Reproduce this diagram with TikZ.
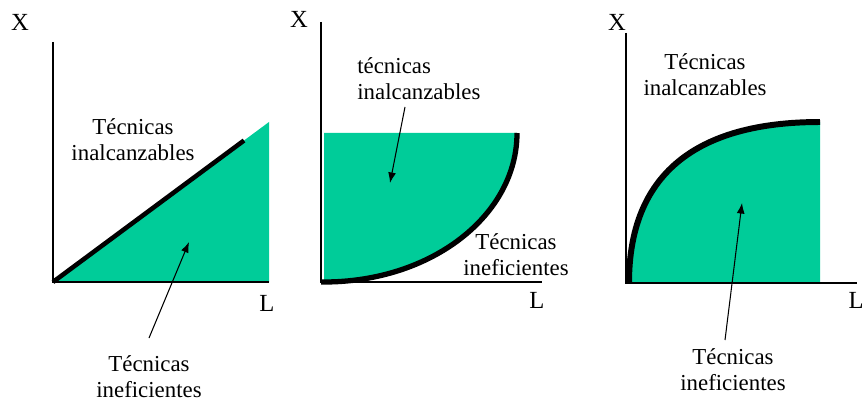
\documentclass[tikz,border=0pt]{standalone}
\usepackage{fontspec}
\setmainfont{Liberation Serif}
\newfontfamily\tiempos{Liberation Serif}
\usetikzlibrary{arrows.meta}
\definecolor{verde}{HTML}{00CC99}
\tikzset{
  eje/.style={line width=0.6pt},
  curva/.style={line width=2.6pt},
  zona/.style={fill=verde},
  flecha/.style={-{Latex[length=6pt,width=4.5pt]}, line width=0.6pt},
  rotulo/.style={font=\tiempos\fontsize{13}{14.7}\selectfont, align=center, inner sep=0pt},
  letra/.style={font=\tiempos\fontsize{14}{16}\selectfont, inner sep=0pt},
}
\begin{document}
\begin{tikzpicture}[x=0.02cm,y=-0.02cm]
\useasboundingbox (0,0) rectangle (865,405);

% primer grafico
\fill[zona] (53,282) -- (269,122) -- (269,282) -- cycle;
\draw[eje] (53,42) -- (53,282) -- (269,282);
\draw[curva] (53,282) -- (244,140.5);

\node[letra]
(X1)
at (20,22)
{X};

\node[letra]
(L1)
at (267,303)
{L};

\node[rotulo]
(I1)
at (133,140)
{Técnicas\\inalcanzables};

\node[rotulo]
(E1)
at (149,377)
{Técnicas\\ineficientes};

\coordinate (a1) at (149,338);
\coordinate (b1) at (189,242);
\draw[flecha] (a1) -- (b1);

% segundo grafico
\fill[zona] (324,133) -- (517,133) .. controls (517,215) and (432,282) .. (324,282) -- cycle;
\draw[eje] (321,22) -- (321,282) -- (542,282);
\draw[curva, line width=3pt] (517,133) .. controls (517,215) and (432,282) .. (324,282) -- (321,282);

\node[letra]
(X2)
at (299,19)
{X};

\node[letra]
(L2)
at (537,300)
{L};

\node[rotulo, align=left, anchor=west]
(I2)
at (357,79)
{técnicas\\inalcanzables};

\node[rotulo]
(E2)
at (516,255)
{Técnicas\\ineficientes};

\coordinate (a2) at (405,107);
\coordinate (b2) at (390,183);
\draw[flecha] (a2) -- (b2);

% tercer grafico
\fill[zona] (629,283) .. controls (629,176) and (694,122) .. (820,122) -- (820,283) -- cycle;
\draw[eje] (626,33) -- (626,283) -- (857,283);
\draw[curva, line width=3.4pt] (629,283) .. controls (629,176) and (694,122) .. (820,122);

\node[letra]
(X3)
at (617,22)
{X};

\node[letra]
(L3)
at (856,300)
{L};

\node[rotulo]
(I3)
at (705,75)
{Técnicas\\inalcanzables};

\node[rotulo]
(E3)
at (733,370)
{Técnicas\\ineficientes};

\coordinate (a3) at (725,340);
\coordinate (b3) at (742,203);
\draw[flecha] (a3) -- (b3);

\end{tikzpicture}
\end{document}
